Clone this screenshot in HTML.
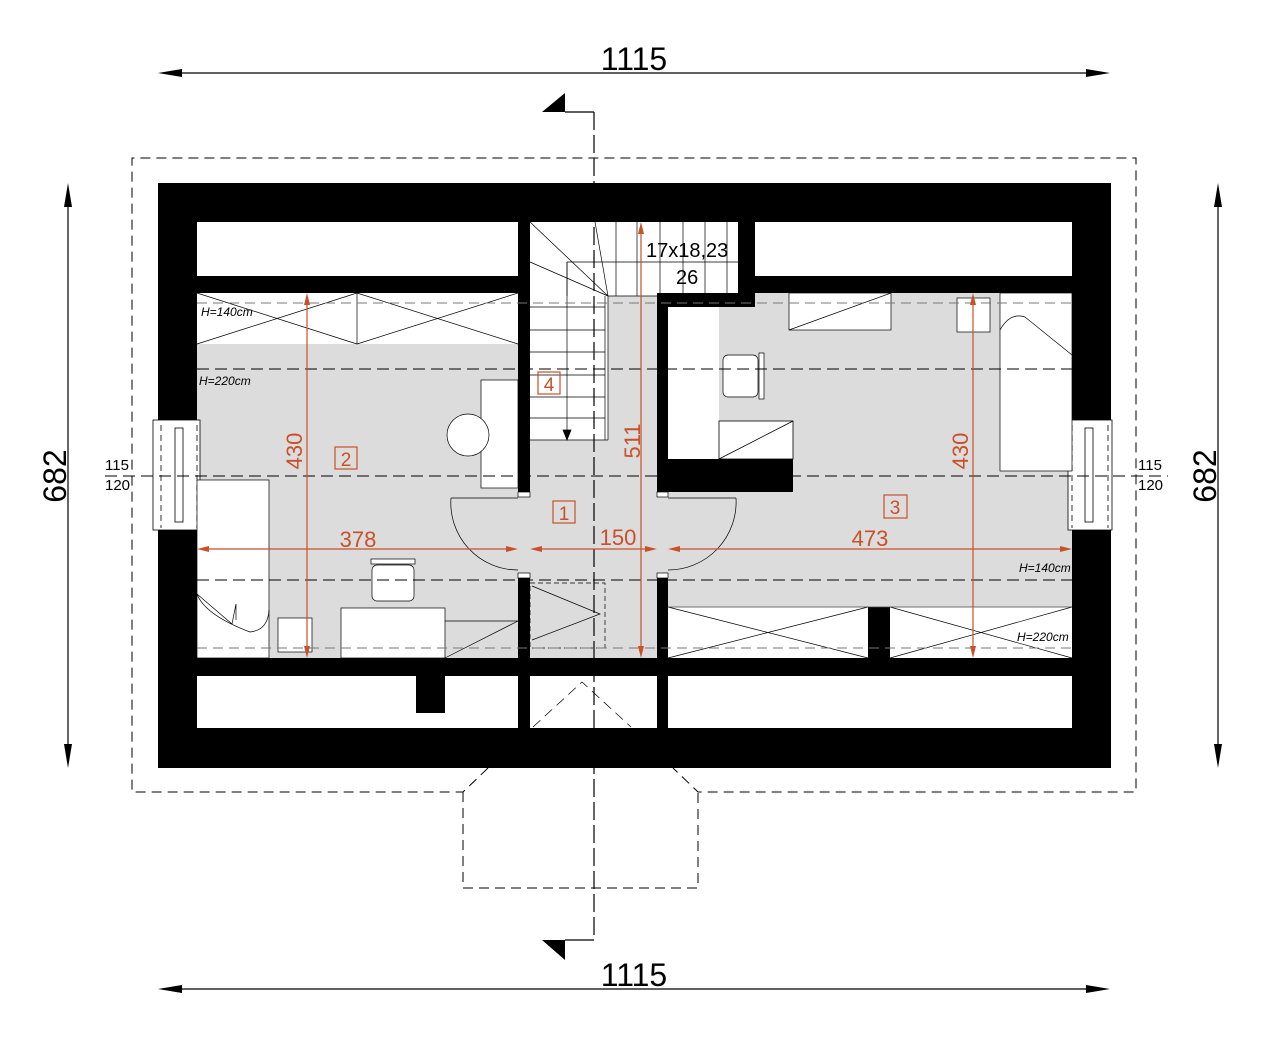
<!DOCTYPE html>
<html><head><meta charset="utf-8"><style>html,body{margin:0;padding:0;background:#fff}svg{display:block}</style></head>
<body>
<svg width="1273" height="1050" viewBox="0 0 1273 1050" xmlns="http://www.w3.org/2000/svg" font-family="Liberation Sans, sans-serif">
<defs>
<marker id="ab" markerWidth="12" markerHeight="8" refX="12" refY="4" orient="auto" markerUnits="userSpaceOnUse"><path d="M0,0 L12,4 L0,8 Z" fill="#000"/></marker>
<marker id="ao" markerWidth="10" markerHeight="6" refX="10" refY="3" orient="auto" markerUnits="userSpaceOnUse"><path d="M0,0 L10,3 L0,6 Z" fill="#c8502a"/></marker>
</defs>
<!-- outer dashed roof outline -->
<g fill="none" stroke="#000" stroke-width="1" stroke-dasharray="10,6">
<path d="M488,768 L463,792 L132,792 L132,158 L1136,158 L1136,792 L698,792 L673,768"/>
<path d="M463,792 L463,888 L698,888 L698,792"/>
</g>
<!-- building black mass -->
<rect x="158" y="183" width="953" height="585" fill="#000"/>
<!-- interior whites/grays -->
<rect x="197" y="222" width="321" height="54" fill="#fff"/>
<rect x="755" y="222" width="317" height="54" fill="#fff"/>
<rect x="197" y="293" width="321" height="51" fill="#fff"/>
<rect x="197" y="344" width="321" height="314" fill="#dcdcdc"/>
<rect x="530" y="222" width="208" height="74" fill="#fff"/>
<rect x="530" y="296" width="127" height="362" fill="#dcdcdc"/>
<rect x="530" y="296" width="78" height="144" fill="#fff"/>
<rect x="668" y="293" width="404" height="314" fill="#dcdcdc"/>
<rect x="755" y="276" width="317" height="17" fill="#000"/>
<rect x="657" y="293" width="98" height="14" fill="#000"/>
<rect x="668" y="607" width="404" height="51" fill="#fff"/>
<rect x="868" y="607" width="22" height="53" fill="#000"/>
<rect x="197" y="676" width="321" height="52" fill="#fff"/>
<rect x="530" y="676" width="127" height="52" fill="#fff"/>
<rect x="668" y="676" width="404" height="52" fill="#fff"/>
<rect x="416" y="676" width="29" height="37" fill="#000"/>
<!-- door gaps -->
<rect x="518" y="495" width="12" height="80" fill="#dcdcdc"/>
<rect x="657" y="492" width="11" height="85" fill="#dcdcdc"/>
<rect x="518" y="492" width="12" height="5" fill="#fff" stroke="#000" stroke-width="0.7"/>
<rect x="518" y="573" width="12" height="5" fill="#fff" stroke="#000" stroke-width="0.7"/>
<rect x="657" y="492" width="11" height="5" fill="#fff" stroke="#000" stroke-width="0.7"/>
<rect x="657" y="573" width="11" height="5" fill="#fff" stroke="#000" stroke-width="0.7"/>
<!-- wardrobe room 3 -->
<rect x="668" y="307" width="51" height="152" fill="#fff"/>
<rect x="719" y="421" width="74" height="38" fill="#fff" stroke="#000" stroke-width="0.8"/>
<line x1="719" y1="459" x2="793" y2="421" stroke="#000" stroke-width="0.8"/>
<rect x="657" y="459" width="136" height="33" fill="#000"/>
<!-- windows -->
<g fill="#fff" stroke="#000" stroke-width="0.8">
<rect x="153" y="420" width="47" height="110"/>
<rect x="175" y="428" width="8" height="94"/>
<rect x="1068" y="420" width="44" height="110"/>
<rect x="1085" y="428" width="8" height="94"/>
</g>
<g stroke="#000" stroke-width="0.8" stroke-dasharray="6,4" fill="none">
<line x1="161" y1="425" x2="161" y2="528"/><line x1="197" y1="425" x2="197" y2="528"/>
<line x1="1072" y1="425" x2="1072" y2="528"/><line x1="1108" y1="425" x2="1108" y2="528"/>
</g>
<!-- hatches knee walls -->
<g stroke="#000" stroke-width="0.7" fill="none">
<path d="M197,293 L357,344 M197,344 L357,293 M357,293 L518,344 M357,344 L518,293 M357,293 V344"/>
<path d="M668,607 L868,658 M668,658 L868,607 M890,607 L1072,658 M890,658 L1072,607"/>
<line x1="668" y1="607" x2="1072" y2="607" stroke="#444"/>
<!-- stairs -->
<path d="M530,222 L608,296 M530,262 L608,296 M595,222 L608,296"/>
<path d="M567,262 H738 M567,262 V296 M616,222 V296 M637,222 V296 M660,222 V296 M683,222 V296 M705,222 V296 M727,222 V296"/>
<path d="M530,307 H605 M530,330 H605 M530,352 H605 M530,375 H605 M530,397 H605 M530,418 H605 M530,440 H608 M605,296 V440 M608,296 V440 M608,296 H657"/>
<line x1="567" y1="262" x2="567" y2="432"/>
<path d="M563,430 L567,440 L571,430 Z" fill="#000"/>
<!-- furniture room 2 -->
<rect x="481" y="380" width="37" height="108" fill="#fff"/>
<circle cx="468" cy="435" r="21" fill="#fff"/>
<rect x="197" y="480" width="72" height="178" fill="#fff"/>
<path d="M197,594 L232,624 L236,604 L236,620 M197,594 Q205,615 250,632 Q268,630 269,610" />
<rect x="278" y="618" width="34" height="34" fill="#fff"/>
<rect x="341" y="608" width="104" height="50" fill="#fff"/>
<path d="M445,621 H518 M445,658 L518,621"/>
<rect x="371" y="559" width="44" height="5" fill="#fff"/>
<rect x="372" y="565" width="42" height="36" rx="5" fill="#fff"/>
<!-- furniture room 3 -->
<rect x="789" y="293" width="102" height="37" fill="#fff"/>
<line x1="789" y1="330" x2="891" y2="293"/>
<rect x="957" y="298" width="33" height="34" fill="#fff"/>
<rect x="1000" y="293" width="72" height="178" fill="#fff"/>
<path d="M1000,330 Q1010,312 1025,317 L1072,355" />
<rect x="723" y="355" width="35" height="42" rx="5" fill="#fff"/>
<rect x="759" y="353" width="5" height="46" fill="#fff"/>
<!-- corridor box -->
<rect x="530" y="583" width="75" height="65" stroke-dasharray="5,3"/>
<path d="M532,586 L600,614 L532,640" />
<!-- doors -->
<path d="M451,498 H518 M451,498 A67,67 0 0 0 518,570" />
<path d="M668,498 H736 M736,498 A68,68 0 0 1 668,570" />
<!-- bottom stair arrow -->
<path d="M533,727 L582,682 L631,727" stroke-dasharray="10,6"/>
</g>
<!-- dashed guide lines -->
<g stroke="#000" stroke-width="1" stroke-dasharray="12,6" fill="none">
<line x1="105" y1="476" x2="1168" y2="476"/>
<line x1="197" y1="369" x2="1072" y2="369"/>
<line x1="197" y1="580" x2="1072" y2="580"/>
</g>
<g stroke="#777" stroke-width="1" stroke-dasharray="10,6" fill="none">
<line x1="197" y1="303" x2="1072" y2="303"/>
<line x1="197" y1="648" x2="1072" y2="648"/>
</g>
<!-- section line -->
<line x1="594" y1="112" x2="594" y2="940" stroke="#000" stroke-width="1.2" stroke-dasharray="18,5"/>
<path d="M565,112 H594 M565,940 H594" stroke="#000" stroke-width="1.2"/>
<path d="M542,112 L565,93 L565,112 Z M542,940 L565,960 L565,940 Z" fill="#000"/>
<!-- overall dims -->
<g stroke="#000" stroke-width="1.2">
<line x1="170" y1="73" x2="1098" y2="73"/>
<line x1="170" y1="989" x2="1098" y2="989"/>
<line x1="68" y1="195" x2="68" y2="756"/>
<line x1="1218" y1="195" x2="1218" y2="756"/>
</g>
<g fill="#000">
<path d="M158,73 l24,-4 v8Z M1110,73 l-24,-4 v8Z M158,989 l24,-4 v8Z M1110,989 l-24,-4 v8Z"/>
<path d="M68,183 l-4,24 h8Z M68,768 l-4,-24 h8Z M1218,183 l-4,24 h8Z M1218,768 l-4,-24 h8Z"/>
</g>
<g font-size="32" fill="#000" text-anchor="middle">
<text x="634" y="70">1115</text>
<text x="634" y="986">1115</text>
<text transform="translate(66,476) rotate(-90)">682</text>
<text transform="translate(1216,476) rotate(-90)">682</text>
</g>
<g font-size="15" fill="#000">
<text x="105" y="470">115</text><text x="105" y="490">120</text>
<text x="1138" y="470">115</text><text x="1138" y="490">120</text>
</g>
<g font-size="12" fill="#000" font-style="italic">
<text x="201" y="316">H=140cm</text>
<text x="199" y="385">H=220cm</text>
<text x="1019" y="572">H=140cm</text>
<text x="1017" y="641">H=220cm</text>
</g>
<text x="646" y="257" font-size="20" fill="#000">17x18,23</text>
<text x="676" y="284" font-size="20" fill="#000">26</text>
<!-- orange dims -->
<g stroke="#c8502a" stroke-width="1.2" fill="none">
<line x1="307" y1="305" x2="307" y2="646"/>
<line x1="641" y1="232" x2="641" y2="648"/>
<line x1="973" y1="305" x2="973" y2="646"/>
<line x1="208" y1="549" x2="508" y2="549"/>
<line x1="540" y1="549" x2="647" y2="549"/>
<line x1="679" y1="549" x2="1062" y2="549"/>
<rect x="538" y="372" width="22" height="22"/>
<rect x="335" y="447" width="22" height="22"/>
<rect x="553" y="501" width="22" height="22"/>
<rect x="884" y="495" width="23" height="23"/>
</g>
<g fill="#c8502a">
<path d="M307,293 l-3,12 h6Z M307,658 l-3,-12 h6Z M641,222 l-3,12 h6Z M641,658 l-3,-12 h6Z M973,293 l-3,12 h6Z M973,658 l-3,-12 h6Z"/>
<path d="M197,549 l12,-3 v6Z M518,549 l-12,-3 v6Z M530,549 l12,-3 v6Z M657,549 l-12,-3 v6Z M668,549 l12,-3 v6Z M1072,549 l-12,-3 v6Z"/>
</g>
<g font-size="22" fill="#c8502a" text-anchor="middle">
<text x="358" y="547">378</text>
<text x="618" y="545">150</text>
<text x="870" y="546">473</text>
<text transform="translate(302,451) rotate(-90)">430</text>
<text transform="translate(640,441) rotate(-90)">511</text>
<text transform="translate(968,451) rotate(-90)">430</text>
<text x="549" y="391" font-size="19">4</text>
<text x="346" y="466" font-size="19">2</text>
<text x="564" y="520" font-size="19">1</text>
<text x="895" y="514" font-size="19">3</text>
</g>
</svg>
</body></html>
